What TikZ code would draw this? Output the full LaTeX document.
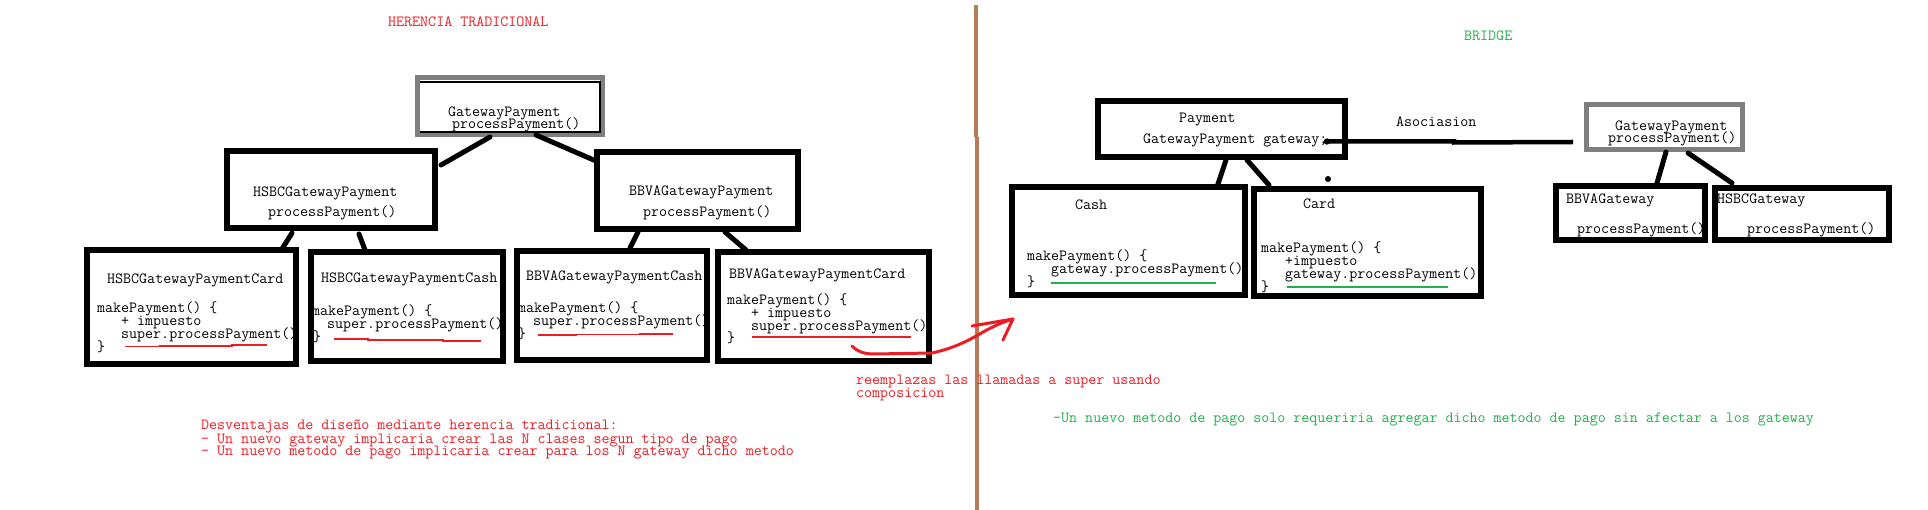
\documentclass[tikz,border=0pt]{standalone}
\usetikzlibrary{calc}
\definecolor{pred}{RGB}{237,28,36}
\definecolor{pgreen}{RGB}{34,177,76}
\definecolor{pgray}{RGB}{127,127,127}
\definecolor{pbrown}{RGB}{185,122,87}
\begin{document}
\begin{tikzpicture}[x=1pt,y=-1pt,
  txt/.style={font=\ttfamily\fontsize{15.55}{13}\selectfont, inner sep=0pt, anchor=base west},
  redtxt/.style={txt, text=pred},
  greentxt/.style={txt, text=pgreen},
  box/.style={draw=black, line width=6pt, inner sep=0pt},
  gbox/.style={draw=pgray, line width=4.7pt, inner sep=0pt},
  link/.style={line width=5pt, line cap=round},
  redline/.style={draw=pred, line width=1.5pt},
  greenline/.style={draw=pgreen, line width=1.5pt}]
\useasboundingbox[fill=white] (0,0) rectangle (1928,510);

% ---------------- divider
\draw[pbrown, line width=4pt] (975.5,5) -- (975.5,137);
\draw[pbrown, line width=4pt] (976.7,137) -- (976.7,510);

% ---------------- left: boxes
\node[gbox, minimum width=185.3pt, minimum height=57.3pt] (gpl) at (510,106) {};
\draw[black, line width=1.6pt] ($(gpl.north west)+(4.5,7)$) -- ($(gpl.north east)+(-5,7)$) -- ($(gpl.south east)+(-5,-5)$) -- ($(gpl.south west)+(4.5,-5)$);
\node[box, minimum width=208pt, minimum height=77pt] (hsbc) at (331,189.5) {};
\node[box, minimum width=201pt, minimum height=77pt] (bbva) at (697.5,190.5) {};
\node[box, minimum width=209pt, minimum height=114pt] (hcard) at (191.5,307) {};
\node[box, minimum width=192pt, minimum height=109pt] (hcash) at (407,306.5) {};
\node[box, minimum width=190pt, minimum height=109pt] (bcash) at (612,305.5) {};
\node[box, minimum width=211pt, minimum height=109pt] (bcard) at (823.5,306.5) {};

% connectors left
\draw[link] ($(gpl.south)+(-20,0)$) -- ($(hsbc.north east)+(3,17)$);
\draw[link] ($(gpl.south)+(26,-2)$) -- ($(bbva.north west)+(2,12)$);
\draw[link] ($(hsbc.south)+(-39,2)$) -- ($(hcard.north east)+(-17,2)$);
\draw[link] ($(hsbc.south)+(28,3)$) -- ($(hcash.north west)+(57,1)$);
\draw[link] ($(bbva.south)+(-59.5,0)$) -- ($(bcash.north east)+(-80,0)$);
\draw[link] ($(bbva.south)+(27.5,0)$) -- ($(bcard.north west)+(31,1)$);

% texts left
\node[redtxt] (tHer) at (388,27) {HERENCIA TRADICIONAL};
\node[txt] (tgp1) at (448,117) {GatewayPayment};
\node[txt] (tgp2) at (452,129) {processPayment()};
\node[txt] (th1) at (253,197) {HSBCGatewayPayment};
\node[txt] (th2) at (268,217) {processPayment()};
\node[txt] (tb1) at (629,196) {BBVAGatewayPayment};
\node[txt] (tb2) at (643,217) {processPayment()};

\node[txt] (thc1) at (107,284) {HSBCGatewayPaymentCard};
\node[txt] (thc2) at (97,313) {makePayment() \{};
\node[txt] (thc3) at (121,326) {+ impuesto};
\node[txt] (thc4) at (121,339) {super.processPayment()};
\node[txt] (thc5) at (97,352) {\}};

\node[txt] (ths1) at (321,283) {HSBCGatewayPaymentCash};
\node[txt] (ths2) at (312,316) {makePayment() \{};
\node[txt] (ths3) at (327,329) {super.processPayment()};
\node[txt] (ths4) at (313,342) {\}};

\node[txt] (tbs1) at (526,281) {BBVAGatewayPaymentCash};
\node[txt] (tbs2) at (518,313) {makePayment() \{};
\node[txt] (tbs3) at (533,326) {super.processPayment()};
\node[txt] (tbs4) at (518,339) {\}};

\node[txt] (tbc1) at (729,279) {BBVAGatewayPaymentCard};
\node[txt] (tbc2) at (727,305) {makePayment() \{};
\node[txt] (tbc3) at (751,318) {+ impuesto};
\node[txt] (tbc4) at (751,331) {super.processPayment()};
\node[txt] (tbc5) at (727,343) {\}};

% red underlines
\draw[redline] (125,346.5) -- (160,346.5) -- (160,346) -- (232,346) -- (232,345) -- (267,345);
\draw[redline] (334,339) -- (368,339) -- (368,340) -- (443,340) -- (443,341) -- (481,341);
\draw[redline] (538,335) -- (576,335) -- (576,334.5) -- (640,334.5) -- (640,334) -- (673,334);
\draw[redline] (752,337) -- (911,337);

% red arrow
\draw[pred, line width=3pt, line cap=round, line join=round]
  (852,346) .. controls (858,352) and (864,354) .. (875,354)
  -- (932,353) .. controls (950,349) and (965,343) .. (983,332)
  .. controls (994,326) and (1003,322) .. (1013,319);
\draw[pred, line width=3pt, line cap=round, line join=round]
  (972,326) -- (1013,319) -- (1003,340);

\node[redtxt] (tr1) at (856,385) {reemplazas las llamadas a super usando};
\node[redtxt] (tr2) at (856,398) {composicion};

\node[redtxt] (td1) at (201,429) {Desventajas de diseño mediante herencia tradicional:};
\node[redtxt] (td2) at (201,443) {- Un nuevo gateway implicaria crear las N clases segun tipo de pago};
\node[redtxt] (td3) at (201,456) {- Un nuevo metodo de pago implicaria crear para los N gateway dicho metodo};

% ---------------- right: boxes
\node[box, minimum width=247pt, minimum height=56pt] (pay) at (1221.5,129) {};
\node[box, minimum width=233pt, minimum height=108pt] (cash) at (1128.5,241) {};
\node[box, minimum width=227pt, minimum height=107pt] (card) at (1367.5,242.5) {};
\node[gbox, minimum width=156.3pt, minimum height=45.3pt] (gpr) at (1664.5,127) {};
\node[box, minimum width=149pt, minimum height=54pt] (bbvag) at (1630.5,213) {};
\node[box, minimum width=174pt, minimum height=52pt] (hsbcg) at (1802,214) {};

% connectors right
\coordinate (assocEnd) at ($(gpr.west)+(-11,15)$);
\fill ($(pay.east)+(-21,12.5)$) circle (3.2);
\draw[line width=4.5pt] ($(pay.east)+(-21,12.5)$) -- ($(pay.east)+(106,12.5)$) -- ($(pay.east)+(106,13.5)$) -- (assocEnd);
\draw[link] ($(pay.south)+(4.5,0)$) -- ($(cash.north east)+(-31,3)$);
\draw[link] ($(pay.south)+(25.5,0)$) -- ($(card.north west)+(18,-1)$);
\fill ($(card.north)+(-39.5,-7)$) circle (3);
\draw[link] ($(gpr.south)+(1.5,0)$) -- ($(bbvag.north)+(26.5,0)$);
\draw[link] ($(gpr.south)+(23.5,1)$) -- ($(hsbcg.north west)+(20,-2)$);

% texts right
\node[greentxt] (tBr) at (1464,41) {BRIDGE};
\node[txt] (tAs) at (1396,127) {Asociasion};
\node[txt] (tp1) at (1179,123) {Payment};
\node[txt] (tp2) at (1143,144) {GatewayPayment gateway;};
\node[txt] (tg1) at (1615,131) {GatewayPayment};
\node[txt] (tg2) at (1608,143) {processPayment()};

\node[txt] (tc1) at (1075,210) {Cash};
\node[txt] (tc2) at (1027,261) {makePayment() \{};
\node[txt] (tc3) at (1051,274) {gateway.processPayment()};
\node[txt] (tc4) at (1027,287) {\}};

\node[txt] (tk1) at (1303,209) {Card};
\node[txt] (tk2) at (1261,253) {makePayment() \{};
\node[txt] (tk3) at (1285,266) {+impuesto};
\node[txt] (tk4) at (1285,279) {gateway.processPayment()};
\node[txt] (tk5) at (1261,292) {\}};

\draw[greenline] (1051,283) -- (1216,283);
\draw[greenline] (1287,287) -- (1448,287);

\node[txt] (tbg1) at (1566,204) {BBVAGateway};
\node[txt] (tbg2) at (1577,234) {processPayment()};
\node[txt] (thg1) at (1717,204) {HSBCGateway};
\node[txt] (thg2) at (1747,234) {processPayment()};

\node[greentxt] (tgr) at (1053,423) {-Un nuevo metodo de pago solo requeriria agregar dicho metodo de pago sin afectar a los gateway};
\end{tikzpicture}
\end{document}
